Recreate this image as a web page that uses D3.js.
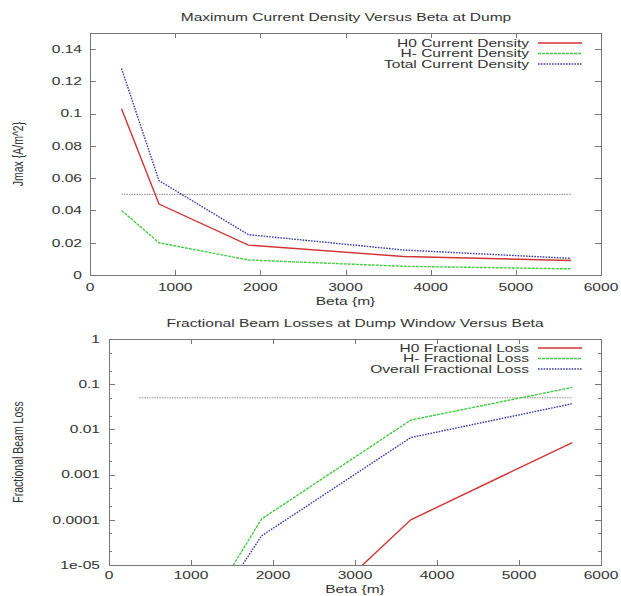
<!DOCTYPE html>
<html><head><meta charset="utf-8">
<script src="https://cdn.jsdelivr.net/npm/d3@7"></script>
<style>
html,body{margin:0;padding:0;background:#fff;}
text{font-family:"Liberation Sans",Arial,sans-serif;fill:#333;}
</style></head>
<body><svg id="c" width="621" height="596"></svg>
<script>
// ---- data ----
const beta = [370, 810, 1860, 3680, 5650];
const h0Density = [0.103, 0.044, 0.0185, 0.0115, 0.009];
const hMinusDensity = [0.040, 0.020, 0.0093, 0.0054, 0.0038];
const totalDensity = [0.128, 0.0585, 0.025, 0.0155, 0.0103];
const densityLimit = 0.05;

const h0Loss = [1e-12, 1e-10, 8e-8, 1.0e-4, 0.0051];
const hMinusLoss = [1e-9, 8e-8, 1.04e-4, 0.0161, 0.085];
const totalLoss = [1e-9, 5.6e-8, 4.4e-5, 0.0066, 0.037];
const lossLimit = 0.05;
const limitRange = [370, 5650];

const xTicks = [0, 1000, 2000, 3000, 4000, 5000, 6000];
const yTicksDensity = [0, 0.02, 0.04, 0.06, 0.08, 0.1, 0.12, 0.14];
const yTicksLoss = [1, 0.1, 0.01, 0.001, 0.0001, 1e-5];
const yTickLabelsLoss = ["1", "0.1", "0.01", "0.001", "0.0001", "1e-05"];
const legendDensity = ["H0 Current Density", "H- Current Density", "Total Current Density"];
const legendLoss = ["H0 Fractional Loss", "H- Fractional Loss", "Overall Fractional Loss"];

// ---- styles ----
const SX = 1.48, FS = 10.5;
const styles = [
  {color:"#d03434", dash:null, w:1.4},
  {color:"#44cc44", dash:"3,1", w:1.4},
  {color:"#3a3aa8", dash:"1.6,1.2", w:1.4}
];
const svg = d3.select("#c");

function txt(g, x, y, s, anchor, size, rot){
  const t = g.append("text").attr("font-size", size || FS).attr("text-anchor", anchor || "start").text(s);
  if (rot) t.attr("transform", `translate(${x},${y}) rotate(-90) scale(1,${SX})`);
  else t.attr("transform", `translate(${x},${y}) scale(${SX},1)`);
  return t;
}

function chart(o){
  const g = svg.append("g");
  const x = d3.scaleLinear().domain([0, 6000]).range([o.left, o.right]);
  const y = o.log ? d3.scaleLog().domain([1e-5, 1]).range([o.bottom, o.top])
                  : d3.scaleLinear().domain([0, 0.15]).range([o.bottom, o.top]);
  const clipId = "clip" + o.id;
  svg.append("defs").append("clipPath").attr("id", clipId).append("rect")
    .attr("x", o.left).attr("y", o.top).attr("width", o.right - o.left).attr("height", o.bottom - o.top);

  // ticks (inward, mirrored)
  const tk = g.append("g").attr("stroke", "#777").attr("stroke-width", 1);
  xTicks.forEach(v => {
    const px = Math.round(x(v)) + 0.5;
    tk.append("line").attr("x1", px).attr("x2", px).attr("y1", o.bottom).attr("y2", o.bottom - 5);
    tk.append("line").attr("x1", px).attr("x2", px).attr("y1", o.top).attr("y2", o.top + 5);
    txt(g, x(v), o.xLabelY, String(v), "middle");
  });
  o.yTicks.forEach((v, i) => {
    const py = Math.round(y(v)) + 0.5;
    tk.append("line").attr("x1", o.left).attr("x2", o.left + 6).attr("y1", py).attr("y2", py);
    tk.append("line").attr("x1", o.right).attr("x2", o.right - 6).attr("y1", py).attr("y2", py);
    txt(g, o.yLabelX, y(v) + 3.8, o.yLabels ? o.yLabels[i] : String(v), "end");
  });
  if (o.log) {
    for (let e = -5; e < 0; e++) {
      [2, 5].forEach(m => {
        const py = Math.round(y(m * Math.pow(10, e))) + 0.5;
        tk.append("line").attr("x1", o.left).attr("x2", o.left + 3).attr("y1", py).attr("y2", py);
        tk.append("line").attr("x1", o.right).attr("x2", o.right - 3).attr("y1", py).attr("y2", py);
      });
    }
  }
  // frame
  g.append("rect").attr("x", o.left + 0.5).attr("y", o.top + 0.5)
    .attr("width", o.right - o.left).attr("height", o.bottom - o.top)
    .attr("fill", "none").attr("stroke", "#777").attr("stroke-width", 1);

  // limit line
  const pg = g.append("g").attr("clip-path", `url(#${clipId})`);
  pg.append("line").attr("x1", x(limitRange[0])).attr("x2", x(limitRange[1]))
    .attr("y1", y(o.limit)).attr("y2", y(o.limit))
    .attr("stroke", "#8a8a8a").attr("stroke-width", 1).attr("stroke-dasharray", "1.5,1");

  const line = d3.line().x((d, i) => x(beta[i])).y(d => y(d));
  o.series.forEach((s, k) => {
    const p = pg.append("path").datum(s).attr("d", line)
      .attr("fill", "none").attr("stroke", styles[k].color).attr("stroke-width", styles[k].w);
    if (styles[k].dash) p.attr("stroke-dasharray", styles[k].dash);
  });

  // legend
  o.legend.forEach((name, k) => {
    const yy = o.legendY + k * 10.5;
    txt(g, 529, yy + 3.8, name, "end");
    const l = g.append("line").attr("x1", 538).attr("x2", 582).attr("y1", yy).attr("y2", yy)
      .attr("stroke", styles[k].color).attr("stroke-width", styles[k].w);
    if (styles[k].dash) l.attr("stroke-dasharray", styles[k].dash);
  });

  // titles
  txt(g, o.titleX, o.titleY, o.title, "middle");
  txt(g, (o.left + o.right) / 2, o.xTitleY, "Beta {m}", "middle");
  txt(g, o.yTitleX, (o.top + o.bottom) / 2, o.yTitle, "middle", FS, true);
}

chart({id: 1, left: 90, right: 601, top: 33, bottom: 275, log: false,
  yTicks: yTicksDensity, yLabelX: 82, xLabelY: 291, limit: densityLimit,
  series: [h0Density, hMinusDensity, totalDensity], legend: legendDensity, legendY: 43,
  title: "Maximum Current Density Versus Beta at Dump", titleX: 346, titleY: 21,
  xTitleY: 305, yTitle: "Jmax {A/m^2}", yTitleX: 23});

chart({id: 2, left: 109, right: 601, top: 339, bottom: 565, log: true,
  yTicks: yTicksLoss, yLabels: yTickLabelsLoss, yLabelX: 100, xLabelY: 579, limit: lossLimit,
  series: [h0Loss, hMinusLoss, totalLoss], legend: legendLoss, legendY: 348,
  title: "Fractional Beam Losses at Dump Window Versus Beta", titleX: 355, titleY: 327,
  xTitleY: 593, yTitle: "Fractional Beam Loss", yTitleX: 23});
</script></body></html>
